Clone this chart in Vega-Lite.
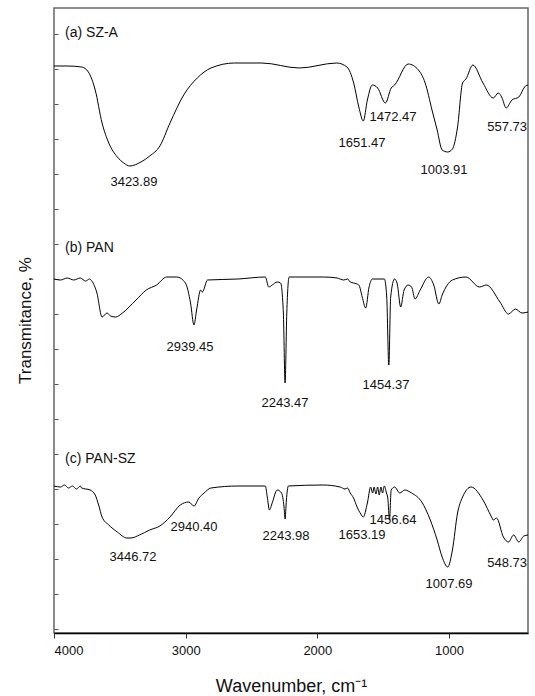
{
  "$schema": "https://vega.github.io/schema/vega-lite/v6.json",
  "width": 474,
  "height": 625,
  "autosize": {"type": "none"},
  "padding": {"left": 54, "top": 8, "right": 7, "bottom": 63},
  "config": {"font": "Liberation Sans", "view": {"stroke": "#666", "strokeWidth": 1.5}},
  "datasets": {
    "spectra": [
      {"series": "a", "wn": 4000, "t": 567}, {"series": "a", "wn": 3900, "t": 567}, {"series": "a", "wn": 3790, "t": 566},
      {"series": "a", "wn": 3739, "t": 561}, {"series": "a", "wn": 3687, "t": 543}, {"series": "a", "wn": 3635, "t": 510},
      {"series": "a", "wn": 3584, "t": 490}, {"series": "a", "wn": 3519, "t": 476}, {"series": "a", "wn": 3470, "t": 470},
      {"series": "a", "wn": 3424, "t": 467}, {"series": "a", "wn": 3340, "t": 471}, {"series": "a", "wn": 3273, "t": 477},
      {"series": "a", "wn": 3196, "t": 487}, {"series": "a", "wn": 3119, "t": 510}, {"series": "a", "wn": 3015, "t": 538},
      {"series": "a", "wn": 2912, "t": 555}, {"series": "a", "wn": 2808, "t": 565}, {"series": "a", "wn": 2628, "t": 570},
      {"series": "a", "wn": 2421, "t": 570}, {"series": "a", "wn": 2137, "t": 565}, {"series": "a", "wn": 1853, "t": 570},
      {"series": "a", "wn": 1775, "t": 566}, {"series": "a", "wn": 1724, "t": 550}, {"series": "a", "wn": 1685, "t": 526},
      {"series": "a", "wn": 1651, "t": 512}, {"series": "a", "wn": 1620, "t": 533}, {"series": "a", "wn": 1582, "t": 548},
      {"series": "a", "wn": 1542, "t": 545}, {"series": "a", "wn": 1483, "t": 530}, {"series": "a", "wn": 1439, "t": 545},
      {"series": "a", "wn": 1413, "t": 548}, {"series": "a", "wn": 1310, "t": 569}, {"series": "a", "wn": 1232, "t": 563},
      {"series": "a", "wn": 1181, "t": 550}, {"series": "a", "wn": 1129, "t": 523}, {"series": "a", "wn": 1090, "t": 503},
      {"series": "a", "wn": 1052, "t": 483}, {"series": "a", "wn": 1010, "t": 481}, {"series": "a", "wn": 974, "t": 484},
      {"series": "a", "wn": 935, "t": 506}, {"series": "a", "wn": 897, "t": 550}, {"series": "a", "wn": 871, "t": 554},
      {"series": "a", "wn": 819, "t": 568}, {"series": "a", "wn": 742, "t": 550}, {"series": "a", "wn": 664, "t": 535},
      {"series": "a", "wn": 626, "t": 540}, {"series": "a", "wn": 600, "t": 536}, {"series": "a", "wn": 566, "t": 525},
      {"series": "a", "wn": 522, "t": 533}, {"series": "a", "wn": 470, "t": 536}, {"series": "a", "wn": 419, "t": 547},
      {"series": "a", "wn": 400, "t": 548},

      {"series": "b", "wn": 4000, "t": 354}, {"series": "b", "wn": 3950, "t": 353}, {"series": "b", "wn": 3900, "t": 355},
      {"series": "b", "wn": 3850, "t": 353}, {"series": "b", "wn": 3800, "t": 355}, {"series": "b", "wn": 3760, "t": 352},
      {"series": "b", "wn": 3730, "t": 354}, {"series": "b", "wn": 3713, "t": 352}, {"series": "b", "wn": 3674, "t": 340},
      {"series": "b", "wn": 3635, "t": 316}, {"series": "b", "wn": 3597, "t": 320}, {"series": "b", "wn": 3571, "t": 317},
      {"series": "b", "wn": 3532, "t": 316}, {"series": "b", "wn": 3480, "t": 320}, {"series": "b", "wn": 3377, "t": 333},
      {"series": "b", "wn": 3299, "t": 343}, {"series": "b", "wn": 3221, "t": 348}, {"series": "b", "wn": 3144, "t": 356},
      {"series": "b", "wn": 3067, "t": 356}, {"series": "b", "wn": 3002, "t": 350}, {"series": "b", "wn": 2963, "t": 330},
      {"series": "b", "wn": 2937, "t": 308}, {"series": "b", "wn": 2917, "t": 323}, {"series": "b", "wn": 2886, "t": 343},
      {"series": "b", "wn": 2873, "t": 341}, {"series": "b", "wn": 2834, "t": 353}, {"series": "b", "wn": 2602, "t": 354},
      {"series": "b", "wn": 2395, "t": 356}, {"series": "b", "wn": 2369, "t": 346}, {"series": "b", "wn": 2343, "t": 348},
      {"series": "b", "wn": 2305, "t": 351}, {"series": "b", "wn": 2279, "t": 350}, {"series": "b", "wn": 2258, "t": 320},
      {"series": "b", "wn": 2245, "t": 250}, {"series": "b", "wn": 2232, "t": 320}, {"series": "b", "wn": 2214, "t": 356},
      {"series": "b", "wn": 2163, "t": 356}, {"series": "b", "wn": 1956, "t": 356}, {"series": "b", "wn": 1850, "t": 355},
      {"series": "b", "wn": 1800, "t": 353}, {"series": "b", "wn": 1770, "t": 354}, {"series": "b", "wn": 1750, "t": 351},
      {"series": "b", "wn": 1724, "t": 350}, {"series": "b", "wn": 1685, "t": 348}, {"series": "b", "wn": 1659, "t": 336},
      {"series": "b", "wn": 1633, "t": 325}, {"series": "b", "wn": 1607, "t": 346}, {"series": "b", "wn": 1582, "t": 354},
      {"series": "b", "wn": 1491, "t": 354}, {"series": "b", "wn": 1473, "t": 336}, {"series": "b", "wn": 1457, "t": 268},
      {"series": "b", "wn": 1443, "t": 336}, {"series": "b", "wn": 1413, "t": 354}, {"series": "b", "wn": 1393, "t": 349},
      {"series": "b", "wn": 1367, "t": 326}, {"series": "b", "wn": 1341, "t": 343}, {"series": "b", "wn": 1310, "t": 348},
      {"series": "b", "wn": 1284, "t": 346}, {"series": "b", "wn": 1258, "t": 334}, {"series": "b", "wn": 1219, "t": 343},
      {"series": "b", "wn": 1155, "t": 356}, {"series": "b", "wn": 1116, "t": 348}, {"series": "b", "wn": 1077, "t": 329},
      {"series": "b", "wn": 1052, "t": 338}, {"series": "b", "wn": 974, "t": 353}, {"series": "b", "wn": 871, "t": 356},
      {"series": "b", "wn": 768, "t": 346}, {"series": "b", "wn": 716, "t": 348}, {"series": "b", "wn": 613, "t": 331},
      {"series": "b", "wn": 548, "t": 319}, {"series": "b", "wn": 496, "t": 324}, {"series": "b", "wn": 445, "t": 320},
      {"series": "b", "wn": 400, "t": 321},

      {"series": "c", "wn": 4000, "t": 147}, {"series": "c", "wn": 3950, "t": 146}, {"series": "c", "wn": 3920, "t": 148},
      {"series": "c", "wn": 3890, "t": 145}, {"series": "c", "wn": 3860, "t": 147}, {"series": "c", "wn": 3830, "t": 144},
      {"series": "c", "wn": 3800, "t": 147}, {"series": "c", "wn": 3790, "t": 145}, {"series": "c", "wn": 3726, "t": 143},
      {"series": "c", "wn": 3687, "t": 138}, {"series": "c", "wn": 3661, "t": 128}, {"series": "c", "wn": 3635, "t": 116},
      {"series": "c", "wn": 3584, "t": 108}, {"series": "c", "wn": 3519, "t": 101}, {"series": "c", "wn": 3446, "t": 95},
      {"series": "c", "wn": 3415, "t": 95}, {"series": "c", "wn": 3351, "t": 98}, {"series": "c", "wn": 3273, "t": 103},
      {"series": "c", "wn": 3196, "t": 107}, {"series": "c", "wn": 3119, "t": 116}, {"series": "c", "wn": 3041, "t": 128},
      {"series": "c", "wn": 2976, "t": 131}, {"series": "c", "wn": 2937, "t": 127}, {"series": "c", "wn": 2899, "t": 135},
      {"series": "c", "wn": 2860, "t": 140}, {"series": "c", "wn": 2808, "t": 145}, {"series": "c", "wn": 2602, "t": 147},
      {"series": "c", "wn": 2395, "t": 147}, {"series": "c", "wn": 2380, "t": 136}, {"series": "c", "wn": 2364, "t": 123},
      {"series": "c", "wn": 2343, "t": 130}, {"series": "c", "wn": 2305, "t": 143}, {"series": "c", "wn": 2272, "t": 140},
      {"series": "c", "wn": 2253, "t": 126}, {"series": "c", "wn": 2245, "t": 114}, {"series": "c", "wn": 2235, "t": 133},
      {"series": "c", "wn": 2220, "t": 147}, {"series": "c", "wn": 1956, "t": 148}, {"series": "c", "wn": 1827, "t": 146},
      {"series": "c", "wn": 1790, "t": 144}, {"series": "c", "wn": 1770, "t": 145}, {"series": "c", "wn": 1750, "t": 140},
      {"series": "c", "wn": 1725, "t": 135}, {"series": "c", "wn": 1698, "t": 126}, {"series": "c", "wn": 1670, "t": 119},
      {"series": "c", "wn": 1651, "t": 116}, {"series": "c", "wn": 1620, "t": 130}, {"series": "c", "wn": 1595, "t": 146},
      {"series": "c", "wn": 1580, "t": 140}, {"series": "c", "wn": 1569, "t": 146}, {"series": "c", "wn": 1555, "t": 139},
      {"series": "c", "wn": 1542, "t": 146}, {"series": "c", "wn": 1530, "t": 138}, {"series": "c", "wn": 1517, "t": 146},
      {"series": "c", "wn": 1505, "t": 140}, {"series": "c", "wn": 1491, "t": 147}, {"series": "c", "wn": 1475, "t": 140},
      {"series": "c", "wn": 1465, "t": 135}, {"series": "c", "wn": 1452, "t": 113}, {"series": "c", "wn": 1439, "t": 143},
      {"series": "c", "wn": 1413, "t": 146}, {"series": "c", "wn": 1374, "t": 140}, {"series": "c", "wn": 1336, "t": 143},
      {"series": "c", "wn": 1284, "t": 140}, {"series": "c", "wn": 1207, "t": 131}, {"series": "c", "wn": 1142, "t": 113},
      {"series": "c", "wn": 1090, "t": 93}, {"series": "c", "wn": 1052, "t": 76}, {"series": "c", "wn": 1010, "t": 66},
      {"series": "c", "wn": 974, "t": 83}, {"series": "c", "wn": 935, "t": 120}, {"series": "c", "wn": 897, "t": 136},
      {"series": "c", "wn": 832, "t": 146}, {"series": "c", "wn": 742, "t": 133}, {"series": "c", "wn": 677, "t": 116},
      {"series": "c", "wn": 664, "t": 113}, {"series": "c", "wn": 639, "t": 115}, {"series": "c", "wn": 587, "t": 96},
      {"series": "c", "wn": 548, "t": 91}, {"series": "c", "wn": 509, "t": 98}, {"series": "c", "wn": 470, "t": 91},
      {"series": "c", "wn": 432, "t": 97}, {"series": "c", "wn": 400, "t": 98}
    ],
    "panels": [
      {"label": "(a) SZ-A", "wn": 3916, "t": 600},
      {"label": "(b) PAN", "wn": 3916, "t": 385},
      {"label": "(c) PAN-SZ", "wn": 3916, "t": 174}
    ],
    "peaks": [
      {"label": "3423.89", "wn": 3393, "t": 451},
      {"label": "1651.47", "wn": 1661, "t": 490},
      {"label": "1472.47", "wn": 1425, "t": 516},
      {"label": "1003.91", "wn": 1038, "t": 463},
      {"label": "557.73", "wn": 559, "t": 506},
      {"label": "2939.45", "wn": 2967, "t": 286},
      {"label": "2243.47", "wn": 2246, "t": 230},
      {"label": "1454.37", "wn": 1478, "t": 248},
      {"label": "3446.72", "wn": 3400, "t": 76},
      {"label": "2940.40", "wn": 2937, "t": 106},
      {"label": "2243.98", "wn": 2238, "t": 97},
      {"label": "1653.19", "wn": 1661, "t": 98},
      {"label": "1456.64", "wn": 1425, "t": 113},
      {"label": "1007.69", "wn": 1000, "t": 49},
      {"label": "548.73", "wn": 559, "t": 70}
    ]
  },
  "encoding": {
    "x": {
      "field": "wn", "type": "quantitative",
      "scale": {"domain": [400, 4000], "reverse": true, "nice": false, "zero": false},
      "axis": {
        "values": [4000, 3000, 2000, 1000], "format": "d", "grid": false,
        "labelFontSize": 13, "labelColor": "#111", "labelPadding": 6,
        "tickSize": 5, "tickColor": "#333", "domainColor": "#000", "domainWidth": 1.5,
        "title": "Wavenumber, cm⁻¹", "titleFontSize": 18, "titleFontWeight": "normal", "titleColor": "#111",
        "titleX": 237, "titleY": 53, "titleAlign": "center", "titleBaseline": "middle"
      }
    },
    "y": {
      "field": "t", "type": "quantitative",
      "scale": {"domain": [0, 625], "nice": false, "zero": true},
      "axis": {
        "values": [4, 39, 74, 109, 144, 179, 214, 249, 284, 319, 354, 389, 424, 459, 494, 529, 564, 599],
        "labels": false, "grid": false, "domain": false,
        "tickSize": -4, "tickColor": "#555",
        "title": "Transmitance, %", "titleFontSize": 17, "titleFontWeight": "normal", "titleColor": "#111",
        "titleX": -29, "titleY": 312, "titleAngle": -90, "titleAlign": "center", "titleBaseline": "middle"
      }
    }
  },
  "layer": [
    {
      "data": {"name": "spectra"},
      "mark": {"type": "line", "color": "#000", "strokeWidth": 1, "interpolate": "monotone", "clip": true},
      "encoding": {"detail": {"field": "series"}}
    },
    {
      "data": {"name": "panels"},
      "mark": {"type": "text", "fontSize": 14, "color": "#111", "align": "left", "baseline": "middle"},
      "encoding": {"text": {"field": "label"}}
    },
    {
      "data": {"name": "peaks"},
      "mark": {"type": "text", "fontSize": 13, "color": "#111", "align": "center", "baseline": "middle"},
      "encoding": {"text": {"field": "label"}}
    }
  ]
}
